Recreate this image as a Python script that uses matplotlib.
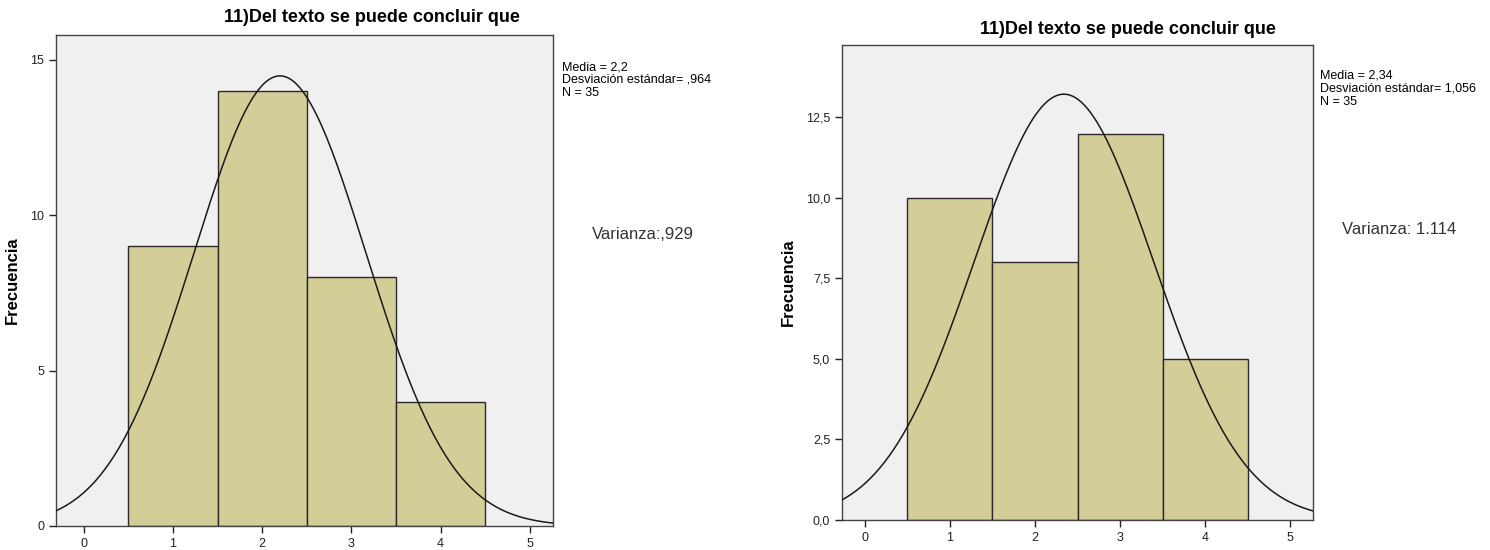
import numpy as np
import matplotlib
matplotlib.use('Agg')
import matplotlib.pyplot as plt

plt.rcParams['font.family'] = ['Liberation Sans', 'DejaVu Sans']

# Data
categories = [1, 2, 3, 4]
counts_left = [9, 14, 8, 4]
counts_right = [10, 8, 12, 5]
mean_left, sd_left, n_left = 2.2, 0.964, 35
mean_right, sd_right, n_right = 2.34, 1.056, 35
title = '11)Del texto se puede concluir que'
stats_left = 'Media = 2,2\nDesviación estándar= ,964\nN = 35'
stats_right = 'Media = 2,34\nDesviación estándar= 1,056\nN = 35'
var_left = 'Varianza:,929'
var_right = 'Varianza: 1.114'
yticks_left = [0, 5, 10, 15]
ylabels_left = ['0', '5', '10', '15']
yticks_right = [0, 2.5, 5, 7.5, 10, 12.5]
ylabels_right = ['0,0', '2,5', '5,0', '7,5', '10,0', '12,5']
xticks = [0, 1, 2, 3, 4, 5]

W, H = 1490, 550
fig = plt.figure(figsize=(W / 100, H / 100), dpi=100)


def px_axes(x0, y0, x1, y1):
    return fig.add_axes([x0 / W, (H - y1) / H, (x1 - x0) / W, (y1 - y0) / H])


def px_text(x, y, s, **kw):
    return fig.text(x / W, 1 - y / H, s, **kw)


def draw_hist(ax, counts, mean, sd, n, xlim, ylim, yticks, ylabels):
    ax.set_facecolor('#f0f0f0')
    ax.bar(categories, counts, width=1.0, color='#d3ce97', edgecolor='#2a2a2a', linewidth=1.0, zorder=2)
    # normal curve scaled to counts (bin width 1)
    xs = np.linspace(xlim[0], xlim[1], 300)
    ys = n / (sd * np.sqrt(2 * np.pi)) * np.exp(-0.5 * ((xs - mean) / sd) ** 2)
    ax.plot(xs, ys, color='#1a1a1a', linewidth=1.1, zorder=3)
    ax.set_xlim(xlim)
    ax.set_ylim(ylim)
    ax.set_xticks(xticks)
    ax.set_xticklabels([str(t) for t in xticks])
    ax.set_yticks(yticks)
    ax.set_yticklabels(ylabels)
    ax.tick_params(direction='out', length=5, width=1, labelsize=9, colors='#222222')
    for s in ax.spines.values():
        s.set_color('#444444')
        s.set_linewidth(1.0)


ax1 = px_axes(56, 35, 553, 526)
draw_hist(ax1, counts_left, mean_left, sd_left, n_left, (-0.31, 5.26), (0, 15.8), yticks_left, ylabels_left)
px_text(12, 280, 'Frecuencia', rotation=90, ha='center', va='center', fontsize=12, fontweight='bold')
px_text(372, 18, title, ha='center', va='center', fontsize=13, fontweight='bold')
px_text(562, 61, stats_left, ha='left', va='top', fontsize=9, linespacing=1.1)
px_text(592, 234, var_left, ha='left', va='center', fontsize=12, color='#333333')

ax2 = px_axes(842, 45, 1313, 520)
draw_hist(ax2, counts_right, mean_right, sd_right, n_right, (-0.27, 5.27), (0, 14.75), yticks_right, ylabels_right)
px_text(788, 282, 'Frecuencia', rotation=90, ha='center', va='center', fontsize=12, fontweight='bold')
px_text(1128, 30, title, ha='center', va='center', fontsize=13, fontweight='bold')
px_text(1320, 70, stats_right, ha='left', va='top', fontsize=9, linespacing=1.1)
px_text(1342, 229, var_right, ha='left', va='center', fontsize=12, color='#333333')

fig.savefig('out.png', dpi=100)
